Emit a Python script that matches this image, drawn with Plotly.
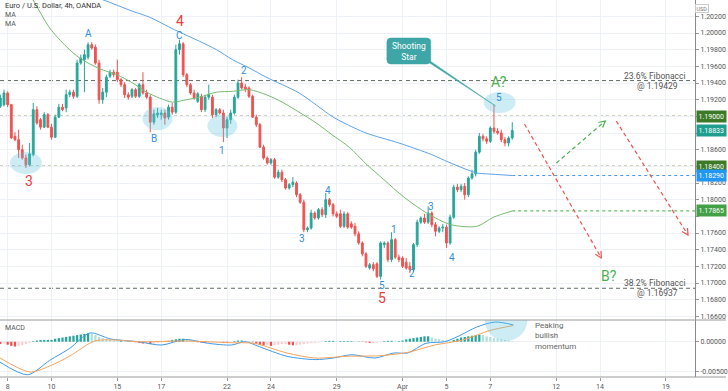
import plotly.graph_objects as go
import math

# ---------------- data ----------------
bar_index = list(range(-1, 140))  # 4h bars, 0 ~ first bar of Mar 8

opens = [1.1912, 1.1914, 1.1928, 1.1914, 1.1876, 1.1872, 1.1860, 1.1850, 1.1842, 1.1854,
         1.1908, 1.1896, 1.1887, 1.1902, 1.1887, 1.1875, 1.1899, 1.1911, 1.1910, 1.1926,
         1.1929, 1.1924, 1.1964, 1.1968, 1.1971, 1.1986, 1.1983, 1.1964, 1.1920, 1.1929,
         1.1948, 1.1953, 1.1953, 1.1944, 1.1938, 1.1926, 1.1924, 1.1932, 1.1924, 1.1938,
         1.1928, 1.1923, 1.1893, 1.1902, 1.1902, 1.1904, 1.1899, 1.1911, 1.1905, 1.1980,
         1.1987, 1.1950, 1.1938, 1.1928, 1.1918, 1.1924, 1.1908, 1.1923, 1.1923, 1.1902,
         1.1908, 1.1904, 1.1886, 1.1896, 1.1904, 1.1923, 1.1940, 1.1935, 1.1934, 1.1924,
         1.1899, 1.1890, 1.1863, 1.1850, 1.1844, 1.1848, 1.1827, 1.1833, 1.1824, 1.1814,
         1.1818, 1.1820, 1.1806, 1.1797, 1.1764, 1.1766, 1.1784, 1.1778, 1.1788, 1.1782,
         1.1800, 1.1794, 1.1783, 1.1783, 1.1768, 1.1783, 1.1771, 1.1768, 1.1759, 1.1748,
         1.1735, 1.1718, 1.1722, 1.1723, 1.1708, 1.1746, 1.1748, 1.1728, 1.1752, 1.1731,
         1.1730, 1.1725, 1.1720, 1.1716, 1.1746, 1.1773, 1.1778, 1.1773, 1.1784, 1.1770,
         1.1762, 1.1766, 1.1767, 1.1748, 1.1779, 1.1815, 1.1812, 1.1816, 1.1806, 1.1826,
         1.1831, 1.1857, 1.1876, 1.1873, 1.1870, 1.1886, 1.1882, 1.1880, 1.1872, 1.1868, 1.1874]

highs = [1.1926, 1.1932, 1.1930, 1.1915, 1.1881, 1.1884, 1.1866, 1.1854, 1.1868, 1.1916,
         1.1912, 1.1898, 1.1905, 1.1904, 1.1891, 1.1902, 1.1915, 1.1915, 1.1932, 1.1932,
         1.1932, 1.1968, 1.1974, 1.1980, 1.1989, 1.1989, 1.1986, 1.1968, 1.1934, 1.1950,
         1.1956, 1.1956, 1.1968, 1.1946, 1.1941, 1.1929, 1.1934, 1.1934, 1.1940, 1.1953,
         1.1932, 1.1926, 1.1908, 1.1910, 1.1908, 1.1908, 1.1914, 1.1916, 1.1986, 1.1992,
         1.1989, 1.1952, 1.1940, 1.1932, 1.1929, 1.1927, 1.1926, 1.1938, 1.1926, 1.1910,
         1.1910, 1.1908, 1.1899, 1.1908, 1.1926, 1.1944, 1.1947, 1.1939, 1.1936, 1.1926,
         1.1902, 1.1892, 1.1866, 1.1852, 1.1850, 1.1850, 1.1836, 1.1836, 1.1826, 1.1820,
         1.1827, 1.1822, 1.1808, 1.1800, 1.1768, 1.1788, 1.1786, 1.1790, 1.1791, 1.1808,
         1.1802, 1.1796, 1.1786, 1.1788, 1.1786, 1.1785, 1.1774, 1.1772, 1.1762, 1.1750,
         1.1737, 1.1724, 1.1725, 1.1725, 1.1750, 1.1750, 1.1750, 1.1761, 1.1754, 1.1734,
         1.1732, 1.1730, 1.1725, 1.1748, 1.1776, 1.1780, 1.1783, 1.1792, 1.1786, 1.1773,
         1.1768, 1.1771, 1.1770, 1.1782, 1.1818, 1.1819, 1.1819, 1.1820, 1.1828, 1.1836,
         1.1860, 1.1880, 1.1879, 1.1876, 1.1888, 1.1914, 1.1886, 1.1884, 1.1875, 1.1876, 1.1893]

lows = [1.1910, 1.1912, 1.1911, 1.1873, 1.1870, 1.1850, 1.1848, 1.1838, 1.1840, 1.1852,
        1.1890, 1.1884, 1.1886, 1.1886, 1.1872, 1.1874, 1.1898, 1.1906, 1.1905, 1.1923,
        1.1921, 1.1922, 1.1962, 1.1929, 1.1968, 1.1980, 1.1962, 1.1915, 1.1915, 1.1923,
        1.1946, 1.1947, 1.1941, 1.1935, 1.1922, 1.1920, 1.1922, 1.1922, 1.1922, 1.1926,
        1.1921, 1.1881, 1.1890, 1.1898, 1.1896, 1.1890, 1.1896, 1.1902, 1.1903, 1.1974,
        1.1947, 1.1935, 1.1926, 1.1920, 1.1916, 1.1905, 1.1905, 1.1920, 1.1898, 1.1899,
        1.1902, 1.1869, 1.1874, 1.1891, 1.1902, 1.1921, 1.1932, 1.1929, 1.1922, 1.1898,
        1.1887, 1.1862, 1.1848, 1.1842, 1.1842, 1.1825, 1.1825, 1.1821, 1.1812, 1.1812,
        1.1815, 1.1803, 1.1795, 1.1761, 1.1761, 1.1764, 1.1776, 1.1776, 1.1779, 1.1778,
        1.1791, 1.1780, 1.1778, 1.1766, 1.1766, 1.1765, 1.1765, 1.1756, 1.1746, 1.1732,
        1.1718, 1.1716, 1.1714, 1.1706, 1.1704, 1.1742, 1.1725, 1.1725, 1.1729, 1.1725,
        1.1718, 1.1716, 1.1712, 1.1713, 1.1743, 1.1771, 1.1771, 1.1771, 1.1767, 1.1756,
        1.1760, 1.1761, 1.1742, 1.1746, 1.1777, 1.1809, 1.1809, 1.1800, 1.1803, 1.1824,
        1.1828, 1.1855, 1.1870, 1.1867, 1.1868, 1.1879, 1.1878, 1.1869, 1.1864, 1.1864, 1.1872]

closes = [1.1922, 1.1928, 1.1914, 1.1874, 1.1872, 1.1860, 1.1850, 1.1842, 1.1855, 1.1908,
          1.1892, 1.1887, 1.1902, 1.1887, 1.1875, 1.1899, 1.1911, 1.1908, 1.1926, 1.1929,
          1.1924, 1.1964, 1.1970, 1.1974, 1.1986, 1.1982, 1.1964, 1.1920, 1.1929, 1.1947,
          1.1953, 1.1950, 1.1944, 1.1938, 1.1926, 1.1923, 1.1932, 1.1924, 1.1938, 1.1928,
          1.1923, 1.1893, 1.1903, 1.1904, 1.1904, 1.1898, 1.1911, 1.1905, 1.1980, 1.1987,
          1.1950, 1.1938, 1.1928, 1.1922, 1.1927, 1.1908, 1.1923, 1.1926, 1.1902, 1.1908,
          1.1904, 1.1886, 1.1896, 1.1904, 1.1923, 1.1940, 1.1934, 1.1933, 1.1924, 1.1899,
          1.1890, 1.1863, 1.1850, 1.1844, 1.1848, 1.1827, 1.1833, 1.1824, 1.1814, 1.1818,
          1.1821, 1.1806, 1.1797, 1.1764, 1.1766, 1.1784, 1.1778, 1.1788, 1.1782, 1.1800,
          1.1794, 1.1783, 1.1780, 1.1768, 1.1783, 1.1767, 1.1767, 1.1759, 1.1748, 1.1735,
          1.1720, 1.1722, 1.1717, 1.1708, 1.1748, 1.1748, 1.1728, 1.1752, 1.1731, 1.1728,
          1.1720, 1.1718, 1.1716, 1.1746, 1.1773, 1.1778, 1.1773, 1.1784, 1.1770, 1.1762,
          1.1766, 1.1767, 1.1748, 1.1779, 1.1815, 1.1812, 1.1816, 1.1806, 1.1826, 1.1831,
          1.1857, 1.1876, 1.1873, 1.1870, 1.1886, 1.1882, 1.1880, 1.1872, 1.1868, 1.1874, 1.1883]

ma_fast_bar = [4.4, 7.9, 12.5, 17.2, 20.7, 26.2, 30.8, 35.2, 39.0, 42.5, 46.1, 49.9, 53.5, 58.1, 62.5,
               67.1, 71.7, 76.1, 80.7, 85.4, 89.7, 94.4, 99.0, 103.9, 109.4, 115.6, 122.2, 129.3, 133.9, 139]
ma_fast_val = [1.2064, 1.2040, 1.2006, 1.1983, 1.1970, 1.1957, 1.1950, 1.1940, 1.1929, 1.1922, 1.1917,
               1.1920, 1.1923, 1.1929, 1.1930, 1.1932, 1.1926, 1.1917, 1.1905, 1.1892, 1.1878, 1.1863,
               1.1843, 1.1824, 1.1803, 1.1784, 1.1770, 1.1768, 1.1779, 1.17865]

ma_slow_bar = [22.9, 27.0, 35.2, 39.8, 46.6, 53.5, 58.1, 62.5, 67.1, 71.7, 80.7, 89.7, 93.0, 99.0,
               108.0, 117.0, 121.6, 129.3, 132.0, 139]
ma_slow_val = [1.2046, 1.2040, 1.2026, 1.2019, 1.2004, 1.1990, 1.1980, 1.1968, 1.1958, 1.1947, 1.1928,
               1.1900, 1.1892, 1.1880, 1.1868, 1.1854, 1.1845, 1.1832, 1.1831, 1.18290]

macd_bar = [-1.1, 6.5, 12.5, 18, 23.5, 29.2, 36.8, 43.1, 49.6, 55.9, 62.2, 66, 69.8, 77.4, 85.1, 90,
            95.2, 101.4, 106.6, 110.4, 115.4, 120.5, 124.4, 129.3, 134.4, 139.3]
macd_val = [-0.0034, -0.0055, -0.0031, -0.0011, 0.00145, 0.00045, 0.0, -0.00055, 0.00038, -0.00027,
            -0.00055, 0.0, -0.00082, -0.00243, -0.00298, -0.00272, -0.00217, -0.00272, -0.00188,
            -0.00188, -0.00027, 0.0, 0.00095, 0.00245, 0.00328, 0.0028]

signal_bar = [-1.1, 7.1, 12.5, 18, 24.8, 30.5, 36.8, 49.6, 62.2, 68.4, 77.4, 85.1, 93.8, 102.8,
              110.4, 117.8, 125.4, 133.1, 139.3]
signal_val = [-0.0027, -0.00505, -0.00405, -0.00238, 0.00012, 0.00028, 0.0, 0.00012, -0.00017,
              -0.00027, -0.00188, -0.00272, -0.00243, -0.00233, -0.00178, -0.00055, 0.00028, 0.0019, 0.0027]

hist_val = [-0.0004, -0.0003, -0.0005, -0.0007, -0.0008, -0.0007, -0.0006, -0.0004, -0.0002,
            0.0001, 0.0002, 0.0003, 0.0003, 0.0003, 0.0003,
            0.0005, 0.0006, 0.0007, 0.0008, 0.0009, 0.0010, 0.0011, 0.0012, 0.0013, 0.0014,
            0.0013, 0.0011, 0.0008, 0.0006, 0.0004, 0.0003,
            0.0002, 0.00015, 0.00015, 0.0001, 0.0001, 0.00005,
            -0.0001, -0.0002, -0.0003, -0.0003, -0.0004, -0.0003, -0.0002,
            -0.0001, 0.00005, 0.00015,
            0.0003, 0.0004, 0.0005, 0.0005, 0.0004, 0.0003,
            0.0001, -0.0001, -0.00015, -0.0002, -0.0002, -0.00015, -0.0001, -0.0001, -0.00015, -0.0002, -0.0001,
            0.0001, 0.0002, 0.0002, 0.00015, 0.0001,
            -0.0001, -0.0003, -0.0005, -0.0006, -0.0006, -0.0007, -0.0006, -0.0005, -0.0004, -0.0004, -0.0005, -0.0006, -0.0006,
            -0.0005, -0.0004, -0.0003, -0.0002, -0.0002, -0.0001, -0.00005,
            0.0001, 0.00015, 0.00015, 0.0001, 0.0001, 0.0001, 0.0001, 0.0001, 0.00005, 0.00005, -0.00005,
            -0.0001, -0.0002, -0.0002, -0.00015, -0.0001,
            0.0001, 0.00015, 0.00015, 0.0001, 0.0001,
            0.0002, 0.0004, 0.0005, 0.0006, 0.0007, 0.0008, 0.0009, 0.0009,
            0.0007, 0.0005, 0.0004, 0.0003, 0.0002, 0.00015,
            0.0003, 0.0005, 0.0007, 0.0008, 0.0009, 0.0010, 0.0011, 0.00115, 0.0011,
            0.0009, 0.0008, 0.0006, 0.0005, 0.0004, 0.0003, 0.0002, 0.0001]

day_ticks = [1, 13, 31, 43, 61, 73, 91, 109, 121, 133, 151, 163, 181]
day_labels = ["8", "10", "15", "17", "22", "24", "29", "Apr", "5", "7", "12", "14", "19"]

price_ticks = [1.166, 1.168, 1.170, 1.172, 1.174, 1.176, 1.178, 1.180, 1.182, 1.184,
               1.186, 1.188, 1.190, 1.192, 1.194, 1.196, 1.198, 1.200, 1.202]
hidden_price_ticks = [1.178, 1.184, 1.188, 1.190]

fib_236 = 1.19429
fib_382 = 1.16937
resistance = 1.19000
support = 1.18400
last_price = 1.18833

# ---------------- geometry helpers (pixel layout of the reference) ----------------
W, H = 728, 391
PW, PH = 697, 377          # plot area in px
MAIN_BOTTOM = 320          # px where main panel ends
X_RANGE = [-1.0908, 188.98]
Y_RANGE = [1.16556, 1.20396]
M_RANGE = [-0.00588, 0.00362]
FONT = "Roboto"


def px(x, y):
    """pixel position -> paper coordinates"""
    return x / PW, (PH - y) / PH


def pth(cmds):
    out = []
    for c in cmds:
        if isinstance(c, str):
            out.append(c)
        else:
            a, b = px(*c)
            out.append(f"{a:.5f},{b:.5f}")
    return " ".join(out)


fig = go.Figure()

fig.add_trace(go.Candlestick(
    x=bar_index, open=opens, high=highs, low=lows, close=closes,
    increasing=dict(line=dict(color="#26a69a", width=1), fillcolor="#26a69a"),
    decreasing=dict(line=dict(color="#ef5350", width=1), fillcolor="#ef5350"),
    whiskerwidth=0, xaxis="x", yaxis="y", showlegend=False, hoverinfo="skip"))

fig.add_trace(go.Scatter(x=ma_fast_bar, y=ma_fast_val, mode="lines",
                         line=dict(color="#77bb6f", width=1, shape="spline", smoothing=0.8),
                         xaxis="x", yaxis="y", showlegend=False, hoverinfo="skip"))
fig.add_trace(go.Scatter(x=ma_slow_bar, y=ma_slow_val, mode="lines",
                         line=dict(color="#5ca3e6", width=1, shape="spline", smoothing=0.8),
                         xaxis="x", yaxis="y", showlegend=False, hoverinfo="skip"))

# MACD histogram colours
hist_colors = []
prev = 0.0
for v in hist_val:
    if v >= 0:
        hist_colors.append("#26a69a" if v >= prev else "#b2dfdb")
    else:
        hist_colors.append("#ef5350" if v < prev else "#ffcdd2")
    prev = v

fig.add_trace(go.Bar(x=bar_index, y=hist_val, marker=dict(color=hist_colors, line=dict(width=0)),
                     width=0.62, xaxis="x2", yaxis="y2", showlegend=False, hoverinfo="skip"))
fig.add_trace(go.Scatter(x=macd_bar, y=macd_val, mode="lines",
                         line=dict(color="#3d9be9", width=1, shape="spline", smoothing=0.8),
                         xaxis="x2", yaxis="y2", showlegend=False, hoverinfo="skip"))
fig.add_trace(go.Scatter(x=signal_bar, y=signal_val, mode="lines",
                         line=dict(color="#f7a35c", width=1, shape="spline", smoothing=0.8),
                         xaxis="x2", yaxis="y2", showlegend=False, hoverinfo="skip"))

shapes = []
for lvl in (fib_236, fib_382):
    shapes.append(dict(type="line", xref="paper", yref="y", x0=0, x1=1, y0=lvl, y1=lvl,
                       line=dict(color="#5d6b60", width=1, dash="4px,3px"), layer="below"))
for lvl in (resistance, support):
    shapes.append(dict(type="line", xref="paper", yref="y", x0=0, x1=1, y0=lvl, y1=lvl,
                       line=dict(color="#a0a878", width=1.5, dash="dot"), layer="below"))
shapes.append(dict(type="line", xref="x", yref="y", x0=ma_fast_bar[-1], x1=X_RANGE[1],
                   y0=ma_fast_val[-1], y1=ma_fast_val[-1],
                   line=dict(color="#66bb6a", width=1.2, dash="dot")))
shapes.append(dict(type="line", xref="x", yref="y", x0=ma_slow_bar[-1], x1=X_RANGE[1],
                   y0=ma_slow_val[-1], y1=ma_slow_val[-1],
                   line=dict(color="#4a9ee8", width=1.2, dash="dot")))

ell_fill = "rgba(100,195,220,0.32)"
for (x0, y0, x1, y1) in [(10, 152, 42, 174), (143, 107, 173, 130), (208, 115, 238, 137), (485, 92, 517, 113)]:
    a0, b0 = px(x0, y1)
    a1, b1 = px(x1, y0)
    shapes.append(dict(type="circle", xref="paper", yref="paper", x0=a0, x1=a1, y0=b0, y1=b1,
                       fillcolor=ell_fill, line=dict(width=0), layer="above"))


def bar_of(xp):
    return X_RANGE[0] + xp / PW * (X_RANGE[1] - X_RANGE[0])


def macd_of(yp):
    return M_RANGE[1] - (yp - MAIN_BOTTOM) / (PH - MAIN_BOTTOM) * (M_RANGE[1] - M_RANGE[0])


shapes.append(dict(type="circle", xref="x2", yref="y2", x0=bar_of(486), x1=bar_of(529),
                   y0=macd_of(341), y1=macd_of(298), fillcolor=ell_fill, line=dict(width=0)))

red = "#ef5350"
green = "#4caf50"
proj = [((526, 124), (603, 258), red), ((558, 163), (607, 121), green), ((618, 121), (690, 235), red)]
for (p0, p1, col) in proj:
    a0, b0 = px(*p0)
    a1, b1 = px(*p1)
    shapes.append(dict(type="line", xref="paper", yref="paper", x0=a0, y0=b0, x1=a1, y1=b1,
                       line=dict(color=col, width=1.2, dash="4px,3px")))
    dx, dy = p1[0] - p0[0], p1[1] - p0[1]
    L = math.hypot(dx, dy)
    ux, uy = dx / L, dy / L
    hl = 7
    ang = math.radians(28)
    pts = []
    for s in (1, -1):
        ca, sa = math.cos(s * ang), math.sin(s * ang)
        rx = -(ux * ca - uy * sa) * hl
        ry = -(ux * sa + uy * ca) * hl
        pts.append((p1[0] + rx, p1[1] + ry))
    shapes.append(dict(type="path", xref="paper", yref="paper",
                       path=pth(["M", pts[0], "L", p1, "L", pts[1]]),
                       line=dict(color=col, width=1.2)))

teal = "#3ea6a6"
shapes.append(dict(type="path", xref="paper", yref="paper",
                   path=pth(["M", (424, 56), "L", (431, 63), "L", (497, 106), "Z"]),
                   fillcolor=teal, line=dict(color=teal, width=0.5)))
shapes.append(dict(type="path", xref="paper", yref="paper",
                   path=pth(["M", (392, 38), "L", (428, 38), "Q", (432, 38), (432, 42), "L", (432, 60),
                             "Q", (432, 64), (428, 64), "L", (392, 64), "Q", (388, 64), (388, 60),
                             "L", (388, 42), "Q", (388, 38), (392, 38), "Z"]),
                   fillcolor=teal, line=dict(color=teal, width=0.5)))

sep = (PH - MAIN_BOTTOM) / PH
shapes.append(dict(type="line", xref="paper", yref="paper", x0=0, x1=W / PW, y0=sep, y1=sep,
                   line=dict(color="#9a9a9a", width=1)))
shapes.append(dict(type="line", xref="paper", yref="paper", x0=0, x1=W / PW, y0=0, y1=0,
                   line=dict(color="#9a9a9a", width=1)))

annotations = []


def txt(text, x, y, size, color, xanchor="center", yanchor="middle", **kw):
    a, b = px(x, y)
    d = dict(text=text, x=a, y=b, xref="paper", yref="paper", showarrow=False,
             font=dict(size=size, color=color, family=FONT), xanchor=xanchor, yanchor=yanchor)
    d.update(kw)
    annotations.append(d)


txt("Euro / U.S. Dollar, 4h, OANDA", 3, 6, 7.5, "#333333", xanchor="left")
txt("MA", 3, 15, 7, "#555555", xanchor="left")
txt("MA", 3, 24, 7, "#555555", xanchor="left")
txt("MACD", 3, 328, 7, "#555555", xanchor="left")

red_lab = "#ec3c3c"
blue_lab = "#2f8fde"
for t, x, y in [("3", 29, 181), ("4", 181, 21), ("5", 383, 298)]:
    txt(t, x, y, 14, red_lab)
for t, x, y in [("A", 89, 33), ("B", 154, 138), ("C", 180, 35), ("1", 223, 150), ("2", 245, 70),
                ("3", 303, 238), ("4", 329, 191), ("5", 383, 285), ("1", 395, 229), ("2", 413, 273),
                ("3", 432, 206), ("4", 453, 257), ("5", 500, 97)]:
    txt(t, x, y, 10, blue_lab)
txt("A?", 500, 82, 14, "#4caf50")
txt("B?", 611, 276, 14, "#4caf50")
txt("Shooting<br>Star", 410, 51, 8.5, "#ffffff")

txt("23.6% Fibonacci", 690, 76, 8.5, "#555555", xanchor="right")
txt("@ 1.19429", 637, 86, 8.5, "#555555", xanchor="left")
txt("38.2% Fibonacci", 690, 283, 8.5, "#555555", xanchor="right")
txt("@ 1.16937", 637, 293, 8.5, "#555555", xanchor="left")
txt("Peaking<br>bullish<br>momentum", 535, 336, 8, "#666666", xanchor="left", align="left")

for lvl, col in [(resistance, "#3c7a27"), (last_price, "#1f9e8e"), (support, "#3c7a27"),
                 (ma_slow_val[-1], "#2196f3"), (ma_fast_val[-1], "#43a047")]:
    annotations.append(dict(text=f"{lvl:.5f}", x=1, xref="paper", y=lvl, yref="y", xanchor="left",
                            yanchor="middle", xshift=1, showarrow=False, bgcolor=col, borderpad=1.5,
                            font=dict(size=7, color="#ffffff", family=FONT)))
a, b = px(711, 4)
annotations.append(dict(text="USD", x=a, y=b, xref="paper", yref="paper", showarrow=False,
                        font=dict(size=5.5, color="#777777", family=FONT), bordercolor="#cccccc",
                        borderwidth=1, borderpad=0.5))

price_text = ["" if any(abs(t - h) < 1e-9 for h in hidden_price_ticks) else f"{t:.5f}" for t in price_ticks]

grid = "#eef1f7"
fig.update_layout(
    width=W, height=H, margin=dict(l=0, r=W - PW, t=0, b=H - PH, pad=0),
    paper_bgcolor="white", plot_bgcolor="white", hovermode=False, showlegend=False,
    font=dict(family=FONT),
    xaxis=dict(domain=[0, 1], range=X_RANGE, anchor="y", tickvals=day_ticks, showticklabels=False,
               showgrid=True, gridcolor=grid, zeroline=False, rangeslider=dict(visible=False),
               ticks=""),
    yaxis=dict(domain=[sep, 1], range=Y_RANGE, anchor="x", side="right", tickvals=price_ticks,
               ticktext=price_text, showgrid=True, gridcolor=grid, zeroline=False, ticks="outside",
               ticklen=3, tickcolor="#999999", showline=True, linecolor="#8a8a8a", linewidth=1,
               tickfont=dict(size=7, color="#555555", family=FONT)),
    xaxis2=dict(domain=[0, 1], range=X_RANGE, anchor="y2", matches="x", tickvals=day_ticks,
                ticktext=day_labels, showgrid=True, gridcolor=grid, zeroline=False, ticks="outside",
                ticklen=3, tickcolor="#999999", tickfont=dict(size=7, color="#555555", family=FONT),
                rangeslider=dict(visible=False)),
    yaxis2=dict(domain=[0, sep], range=M_RANGE, anchor="x2", side="right", tickvals=[0, -0.005],
                ticktext=["0.00000", "-0.00500"], showgrid=True, gridcolor=grid, zeroline=False,
                ticks="outside", ticklen=3, tickcolor="#999999", showline=True, linecolor="#8a8a8a",
                linewidth=1, tickfont=dict(size=7, color="#555555", family=FONT)),
    shapes=shapes, annotations=annotations,
)

fig.write_html("out.html", config={"displayModeBar": False, "staticPlot": True},
               post_script="document.body.style.margin='0';document.body.style.overflow='hidden';")
